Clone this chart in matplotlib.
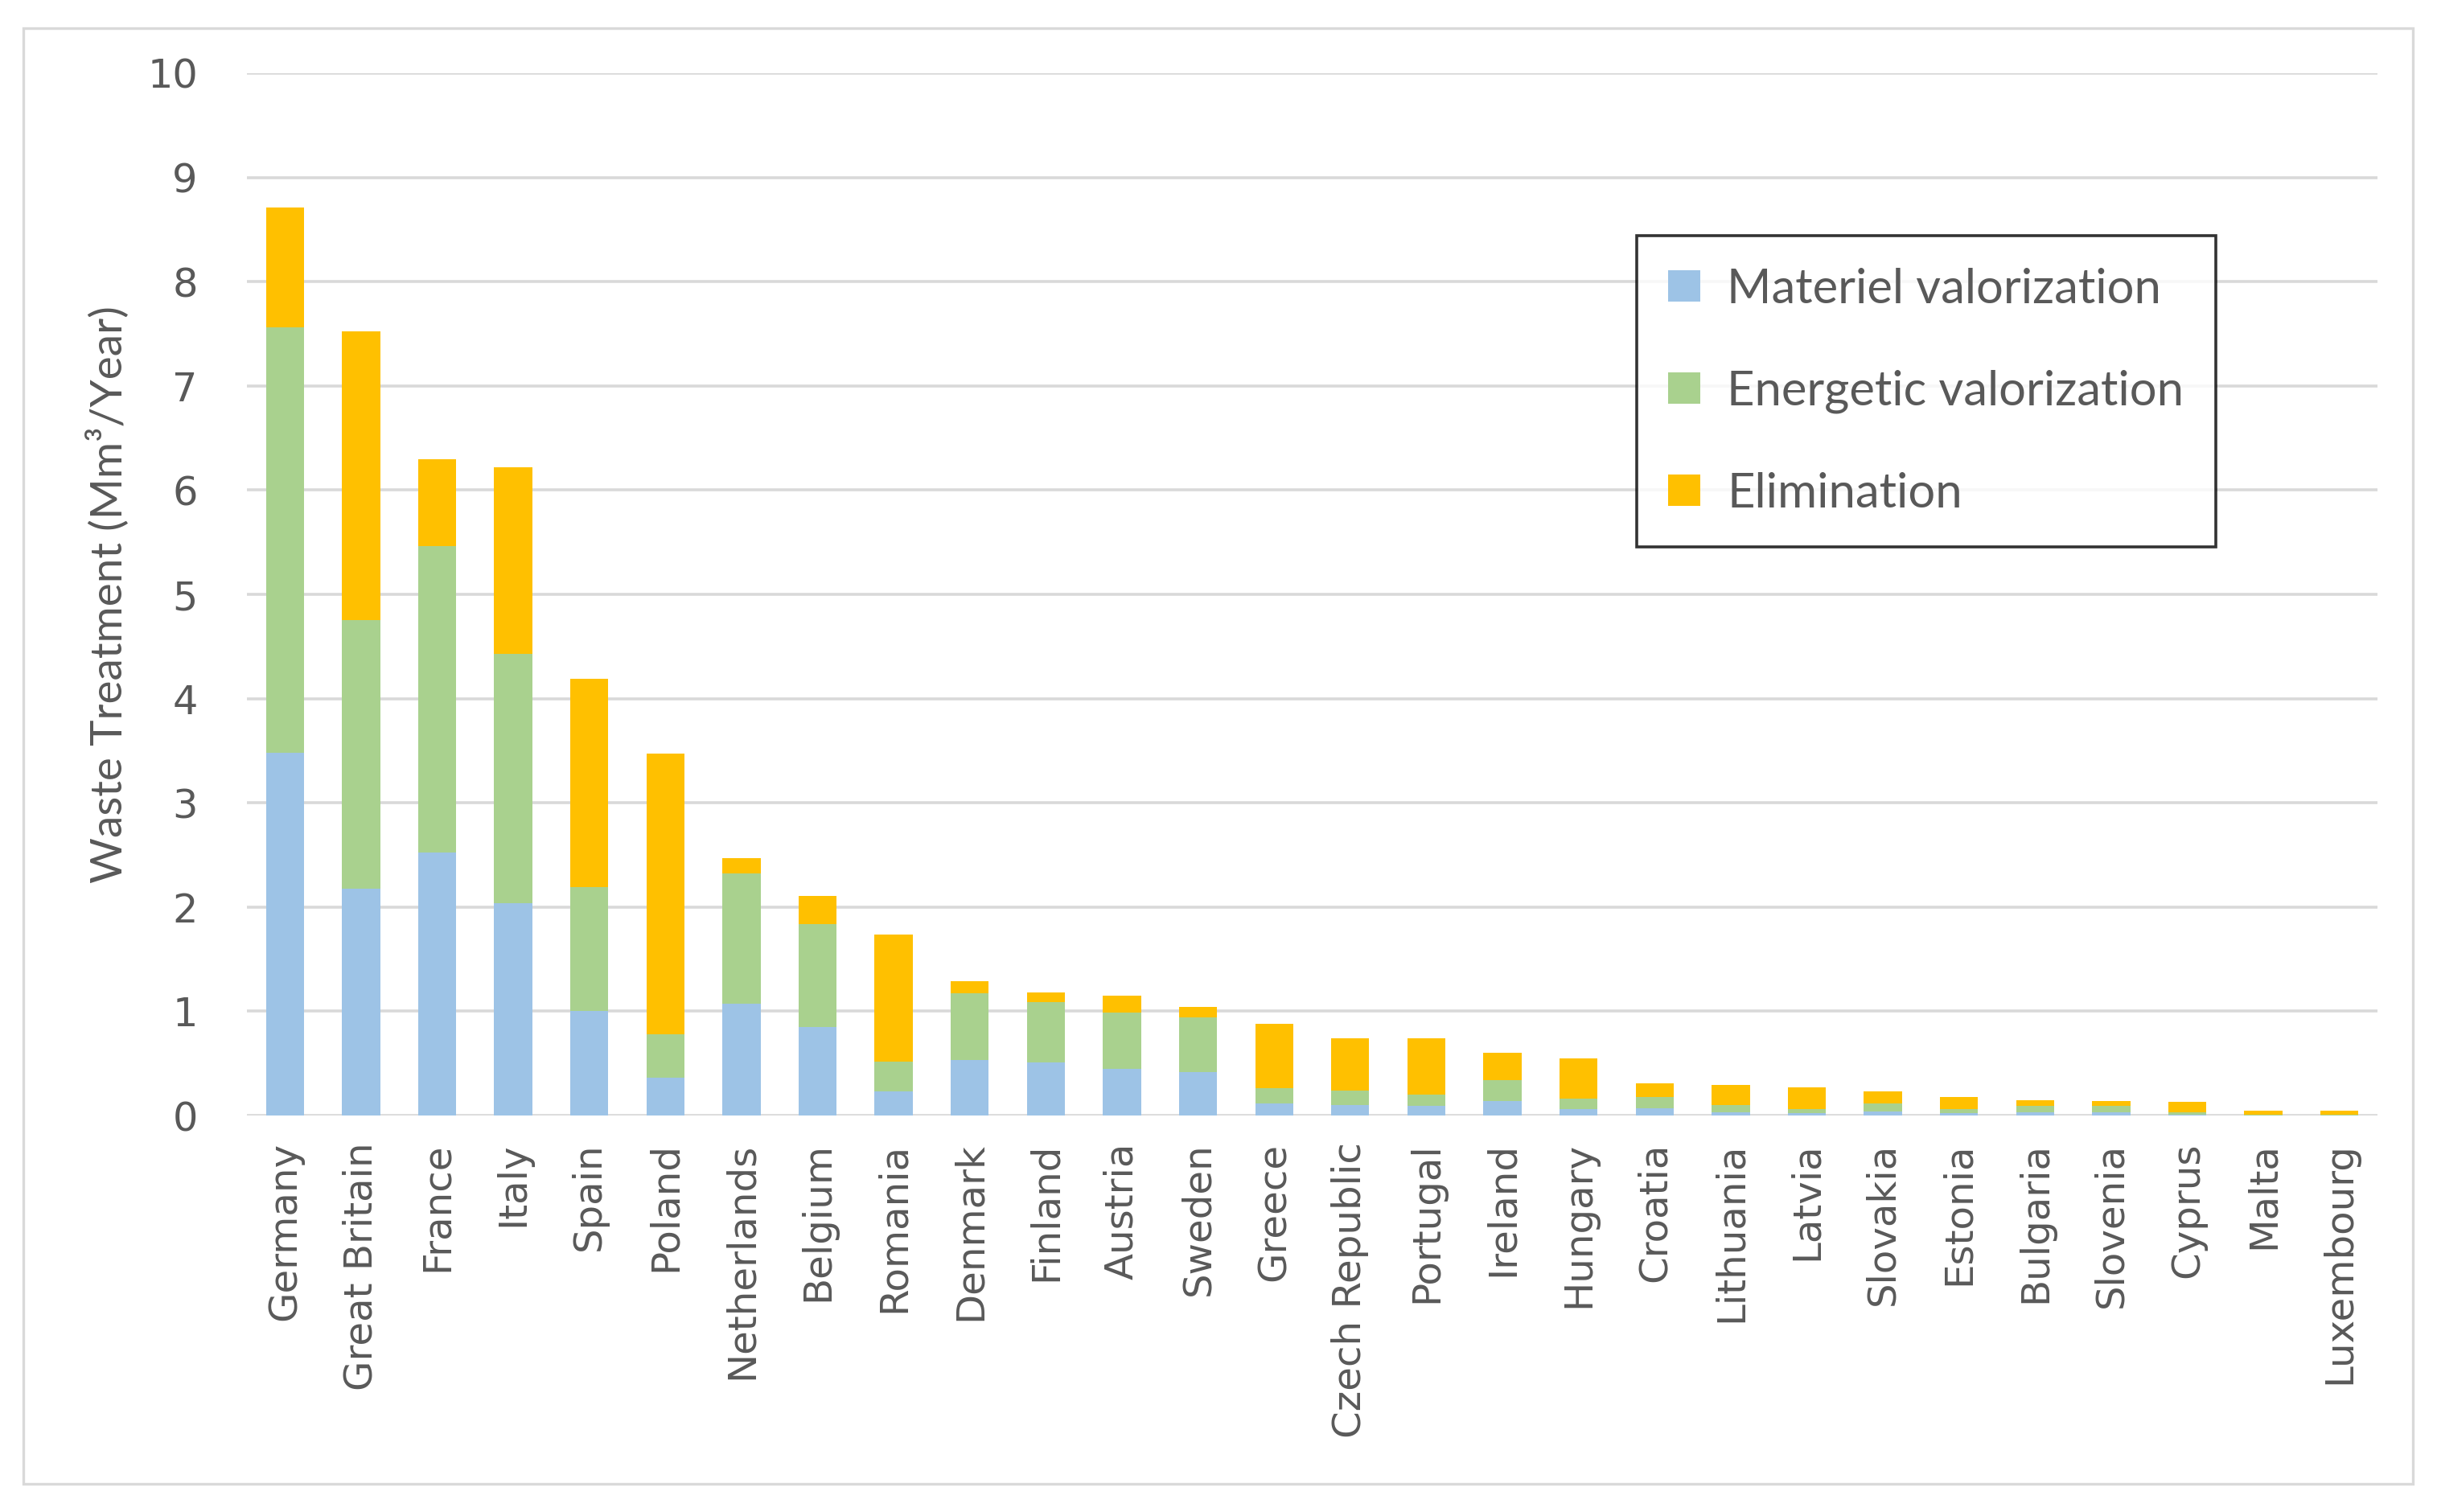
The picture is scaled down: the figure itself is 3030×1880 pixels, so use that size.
import numpy as np
import matplotlib.pyplot as plt
from matplotlib.patches import Rectangle

# ---- data (Mm3/year) ----
countries = ['Germany', 'Great Britain', 'France', 'Italy', 'Spain', 'Poland',
             'Netherlands', 'Belgium', 'Romania', 'Denmark', 'Finland', 'Austria',
             'Sweden', 'Greece', 'Czech Republic', 'Portugal', 'Ireland', 'Hungary',
             'Croatia', 'Lithuania', 'Latvia', 'Slovakia', 'Estonia', 'Bulgaria',
             'Slovenia', 'Cyprus', 'Malta', 'Luxembourg']

# tops of each stacked segment
materiel_top = [3.48, 2.18, 2.52, 2.04, 1.00, 0.36, 1.07, 0.85, 0.23, 0.53, 0.51, 0.45,
                0.42, 0.12, 0.10, 0.09, 0.14, 0.06, 0.07, 0.03, 0.02, 0.04, 0.02, 0.03,
                0.03, 0.01, 0.00, 0.00]
energetic_top = [7.56, 4.75, 5.46, 4.43, 2.19, 0.78, 2.32, 1.84, 0.52, 1.17, 1.09, 0.99,
                 0.94, 0.26, 0.24, 0.20, 0.34, 0.16, 0.18, 0.10, 0.06, 0.12, 0.06, 0.09,
                 0.09, 0.03, 0.01, 0.01]
total = [8.71, 7.52, 6.30, 6.22, 4.19, 3.47, 2.47, 2.11, 1.74, 1.29, 1.18, 1.15,
         1.04, 0.88, 0.74, 0.74, 0.60, 0.55, 0.31, 0.29, 0.27, 0.23, 0.18, 0.15,
         0.14, 0.13, 0.05, 0.05]

materiel = np.array(materiel_top)
energetic = np.array(energetic_top) - materiel
elimination = np.array(total) - np.array(energetic_top)

series_names = ['Materiel valorization', 'Energetic valorization', 'Elimination']
colors = ['#9DC3E6', '#A9D18E', '#FFC000']
text_gray = '#595959'

fig = plt.figure(figsize=(15.15, 9.4), dpi=200)
ax = fig.add_axes([0.1013, 0.2622, 0.8743, 0.6894])

x = np.arange(len(countries))
w = 0.5
ax.bar(x, materiel, w, color=colors[0], label=series_names[0], zorder=3)
ax.bar(x, energetic, w, bottom=materiel, color=colors[1], label=series_names[1], zorder=3)
ax.bar(x, elimination, w, bottom=materiel + energetic, color=colors[2],
       label=series_names[2], zorder=3)

ax.set_xlim(-0.5, len(countries) - 0.5)
ax.set_ylim(0, 10)
ax.set_yticks(range(0, 11))
ax.yaxis.grid(True, color='#D9D9D9', linewidth=1.3, zorder=0)
for s in ax.spines.values():
    s.set_visible(False)

ax.set_xticks(x)
ax.set_xticklabels(countries, rotation=90, fontsize=17.4, color=text_gray,
                   family='DejaVu Sans')
ax.tick_params(axis='x', length=0, pad=12)
ax.tick_params(axis='y', length=0, pad=22, labelsize=17.8, labelcolor=text_gray)

ax.set_ylabel('Waste Treatment (Mm³/Year)', fontsize=19.8, color=text_gray,
              family='Lato')
ax.yaxis.set_label_coords(-0.0555, 0.5)

leg = ax.legend(loc='upper left', bbox_to_anchor=(0.6716, 0.8441),
                bbox_transform=fig.transFigure, borderaxespad=0,
                prop={'family': 'Lato', 'size': 21.5}, labelcolor=text_gray,
                frameon=True, fancybox=False, edgecolor='black',
                handlelength=0.67, handleheight=0.63, handletextpad=0.55,
                labelspacing=1.22, borderpad=0.66)
leg.get_frame().set_linewidth(1.3)

# light outer border around the whole chart
fig.patches.append(Rectangle((29 / 3030, 1 - 1845 / 1880), (3000 - 29) / 3030,
                             (1845 - 35) / 1880, transform=fig.transFigure,
                             fill=False, edgecolor='#D9D9D9', linewidth=1.2))

fig.savefig('out.png', dpi=200)
